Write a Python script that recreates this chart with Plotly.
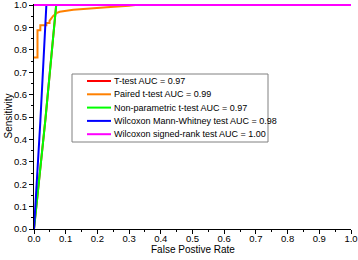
import plotly.graph_objects as go

# ---- data ----
names = ["T-test AUC = 0.97", "Paired t-test AUC = 0.99", "Non-parametric t-test AUC = 0.97",
         "Wilcoxon Mann-Whitney test AUC = 0.98", "Wilcoxon signed-rank test AUC = 1.00"]
colors = ["#FF0000", "#FF8000", "#00FF00", "#0000FF", "#FF00FF"]

ttest_fpr = [0.0, 0.036, 0.07, 1.0]
ttest_tpr = [0.0, 0.49, 1.0, 1.0]

paired_fpr = [0.0, 0.011, 0.011, 0.02, 0.02, 0.039, 0.039, 0.049, 0.049, 0.055, 0.06,
              0.071, 0.081, 0.124, 0.166, 0.23, 0.30, 0.32, 1.0]
paired_tpr = [0.766, 0.766, 0.888, 0.888, 0.91, 0.91, 0.92, 0.92, 0.93, 0.944, 0.951,
              0.964, 0.97, 0.979, 0.985, 0.991, 0.997, 1.0, 1.0]

nonpar_fpr = [0.0, 0.036, 0.07, 1.0]
nonpar_tpr = [0.0, 0.49, 1.0, 1.0]

wmw_fpr = [0.0, 0.02, 0.039, 1.0]
wmw_tpr = [0.0, 0.48, 1.0, 1.0]

wsr_fpr = [0.0, 1.0]
wsr_tpr = [1.0, 1.0]

ticks = [0.0, 0.1, 0.2, 0.3, 0.4, 0.5, 0.6, 0.7, 0.8, 0.9, 1.0]
tick_labels = ["0.0", "0.1", "0.2", "0.3", "0.4", "0.5", "0.6", "0.7", "0.8", "0.9", "1.0"]

x_title = "False Postive Rate"
y_title = "Sensitivity"

series = [(ttest_fpr, ttest_tpr), (paired_fpr, paired_tpr), (nonpar_fpr, nonpar_tpr),
          (wmw_fpr, wmw_tpr), (wsr_fpr, wsr_tpr)]

FONT = "Liberation Sans, Arial, sans-serif"

fig = go.Figure()
for (xs, ys), nm, c in zip(series, names, colors):
    fig.add_trace(go.Scatter(x=xs, y=ys, mode="lines", name=nm,
                             line=dict(color=c, width=2), showlegend=False))

W, H = 358, 260
L, R, T, B = 34, 7, 4, 31
pw, ph = W - L - R, H - T - B


def px(xp):
    return (xp - L) / pw


def py(yp):
    return (H - B - yp) / ph


# manual legend (compact rows)
shapes = [dict(type="rect", xref="paper", yref="paper",
               x0=px(72), x1=px(268), y0=py(142), y1=py(74),
               line=dict(color="#808080", width=1), fillcolor="white", layer="above")]
annotations = []
row_y = [81, 94.3, 107.6, 120.9, 134.2]
for nm, c, yy in zip(names, colors, row_y):
    shapes.append(dict(type="line", xref="paper", yref="paper",
                       x0=px(87), x1=px(111), y0=py(yy), y1=py(yy),
                       line=dict(color=c, width=2), layer="above"))
    annotations.append(dict(xref="paper", yref="paper", x=px(112), y=py(yy),
                            text=nm, showarrow=False, xanchor="left", yanchor="middle",
                            font=dict(family=FONT, size=9, color="black")))

# axis titles
annotations.append(dict(xref="paper", yref="paper", x=0.5, y=py(250), text=x_title,
                        showarrow=False, xanchor="center", yanchor="middle",
                        font=dict(family=FONT, size=10, color="black")))
annotations.append(dict(xref="paper", yref="paper", x=px(8), y=0.5, text=y_title,
                        showarrow=False, xanchor="center", yanchor="middle", textangle=-90,
                        font=dict(family=FONT, size=10, color="black")))

axis_common = dict(tickmode="array", tickvals=ticks, ticktext=tick_labels,
                   showgrid=False, zeroline=False, showline=True, linecolor="black",
                   linewidth=1, ticks="outside", ticklen=4, tickwidth=1, tickcolor="black",
                   tickfont=dict(family=FONT, size=9.5, color="black"),
                   ticklabeloverflow="allow",
                   minor=dict(ticks="outside", ticklen=2, dtick=0.05, tickcolor="black",
                              showgrid=False),
                   fixedrange=True)

fig.update_layout(
    width=W, height=H,
    margin=dict(l=L, r=R, t=T, b=B, autoexpand=False),
    paper_bgcolor="white", plot_bgcolor="white",
    xaxis=dict(**axis_common, range=[0, 1], ticklabelstandoff=-3),
    yaxis=dict(**axis_common, range=[0, 1.005]),
    shapes=shapes, annotations=annotations,
    showlegend=False,
)

fig.write_html("out.html", config={"displayModeBar": False},
               post_script="document.body.style.margin='0';document.body.style.overflow='hidden';")
